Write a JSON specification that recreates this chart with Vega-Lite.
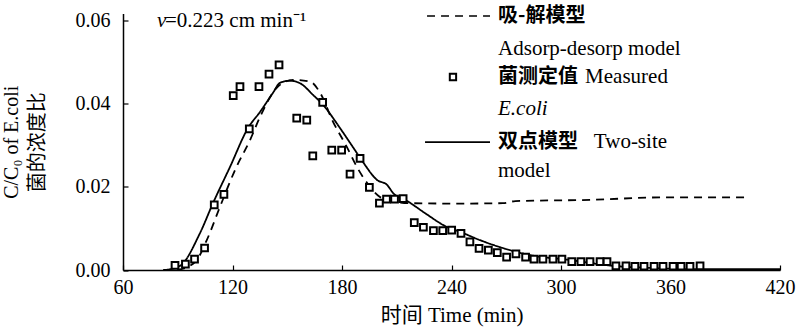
{
  "$schema": "https://vega.github.io/schema/vega-lite/v6.json",
  "autosize": {"type": "none"},
  "padding": {"left": 123, "top": 13.5, "right": 16, "bottom": 59},
  "width": 657,
  "height": 256.5,
  "background": "white",
  "config": {"view": {"stroke": null}, "font": "Liberation Serif"},
  "datasets": {
    "measured": [
      {"t": 88.5, "c": 0.0011}, {"t": 94.2, "c": 0.0014}, {"t": 99.2, "c": 0.0026}, {"t": 104.7, "c": 0.0053},
      {"t": 110.0, "c": 0.0157}, {"t": 115.3, "c": 0.0182}, {"t": 120.4, "c": 0.042}, {"t": 124.1, "c": 0.0442},
      {"t": 129.2, "c": 0.034}, {"t": 134.5, "c": 0.0442}, {"t": 140.0, "c": 0.0472}, {"t": 145.5, "c": 0.0494},
      {"t": 155.2, "c": 0.0366}, {"t": 160.7, "c": 0.0361}, {"t": 164.0, "c": 0.0275}, {"t": 169.4, "c": 0.0404},
      {"t": 174.4, "c": 0.0289}, {"t": 179.8, "c": 0.0289}, {"t": 184.4, "c": 0.0231}, {"t": 189.9, "c": 0.0269},
      {"t": 195.0, "c": 0.0199}, {"t": 200.5, "c": 0.0161}, {"t": 204.4, "c": 0.0171}, {"t": 208.8, "c": 0.0171},
      {"t": 213.5, "c": 0.0172}, {"t": 219.6, "c": 0.0114}, {"t": 224.6, "c": 0.0103}, {"t": 230.1, "c": 0.0095},
      {"t": 235.2, "c": 0.0095}, {"t": 240.1, "c": 0.0096}, {"t": 245.2, "c": 0.0088}, {"t": 250.1, "c": 0.0068},
      {"t": 255.1, "c": 0.0052}, {"t": 260.2, "c": 0.0048}, {"t": 265.1, "c": 0.0042}, {"t": 270.2, "c": 0.0031},
      {"t": 275.3, "c": 0.0039}, {"t": 280.6, "c": 0.0031}, {"t": 285.2, "c": 0.0026}, {"t": 290.1, "c": 0.0026},
      {"t": 295.6, "c": 0.0026}, {"t": 300.5, "c": 0.0026}, {"t": 305.9, "c": 0.002}, {"t": 310.9, "c": 0.002},
      {"t": 315.9, "c": 0.002}, {"t": 321.4, "c": 0.002}, {"t": 325.2, "c": 0.002}, {"t": 330.1, "c": 0.001},
      {"t": 335.6, "c": 0.001}, {"t": 340.5, "c": 0.0009}, {"t": 345.5, "c": 0.0009}, {"t": 351.0, "c": 0.0009},
      {"t": 355.9, "c": 0.0009}, {"t": 361.4, "c": 0.0009}, {"t": 365.8, "c": 0.0009}, {"t": 370.7, "c": 0.0009},
      {"t": 376.2, "c": 0.001}
    ],
    "models": [
      {"model": "Adsorp-desorp", "t": 82, "c": 0},
      {"model": "Adsorp-desorp", "t": 90, "c": 0.0001},
      {"model": "Adsorp-desorp", "t": 99.5, "c": 0.0019},
      {"model": "Adsorp-desorp", "t": 105.9, "c": 0.0072},
      {"model": "Adsorp-desorp", "t": 113.2, "c": 0.0153},
      {"model": "Adsorp-desorp", "t": 121.9, "c": 0.0246},
      {"model": "Adsorp-desorp", "t": 129.6, "c": 0.0313},
      {"model": "Adsorp-desorp", "t": 135.1, "c": 0.0369},
      {"model": "Adsorp-desorp", "t": 144.9, "c": 0.0442},
      {"model": "Adsorp-desorp", "t": 153.2, "c": 0.0458},
      {"model": "Adsorp-desorp", "t": 162.5, "c": 0.0454},
      {"model": "Adsorp-desorp", "t": 168.0, "c": 0.0427},
      {"model": "Adsorp-desorp", "t": 175.1, "c": 0.0357},
      {"model": "Adsorp-desorp", "t": 182.7, "c": 0.0296},
      {"model": "Adsorp-desorp", "t": 188.2, "c": 0.0248},
      {"model": "Adsorp-desorp", "t": 193.7, "c": 0.021},
      {"model": "Adsorp-desorp", "t": 200.8, "c": 0.0176},
      {"model": "Adsorp-desorp", "t": 206.3, "c": 0.0167},
      {"model": "Adsorp-desorp", "t": 217.3, "c": 0.0161},
      {"model": "Adsorp-desorp", "t": 244.7, "c": 0.016},
      {"model": "Adsorp-desorp", "t": 268.2, "c": 0.0161},
      {"model": "Adsorp-desorp", "t": 275.0, "c": 0.0166},
      {"model": "Adsorp-desorp", "t": 315.9, "c": 0.0169},
      {"model": "Adsorp-desorp", "t": 355.9, "c": 0.0175},
      {"model": "Adsorp-desorp", "t": 402.5, "c": 0.0175},
      {"model": "Two-site", "t": 83, "c": 0},
      {"model": "Two-site", "t": 91.2, "c": 0.001},
      {"model": "Two-site", "t": 102.2, "c": 0.0089},
      {"model": "Two-site", "t": 109.3, "c": 0.0161},
      {"model": "Two-site", "t": 118.6, "c": 0.0248},
      {"model": "Two-site", "t": 128.5, "c": 0.0342},
      {"model": "Two-site", "t": 135.1, "c": 0.0381},
      {"model": "Two-site", "t": 142.2, "c": 0.0427},
      {"model": "Two-site", "t": 146.0, "c": 0.0451},
      {"model": "Two-site", "t": 151.5, "c": 0.0456},
      {"model": "Two-site", "t": 157.0, "c": 0.045},
      {"model": "Two-site", "t": 164.1, "c": 0.0422},
      {"model": "Two-site", "t": 169.6, "c": 0.0398},
      {"model": "Two-site", "t": 178.9, "c": 0.0342},
      {"model": "Two-site", "t": 186.0, "c": 0.0296},
      {"model": "Two-site", "t": 191.5, "c": 0.026},
      {"model": "Two-site", "t": 199.2, "c": 0.0217},
      {"model": "Two-site", "t": 204.7, "c": 0.0205},
      {"model": "Two-site", "t": 207.9, "c": 0.0186},
      {"model": "Two-site", "t": 216.2, "c": 0.0165},
      {"model": "Two-site", "t": 225.5, "c": 0.0137},
      {"model": "Two-site", "t": 237.4, "c": 0.0104},
      {"model": "Two-site", "t": 244.7, "c": 0.0092},
      {"model": "Two-site", "t": 255.6, "c": 0.0072},
      {"model": "Two-site", "t": 266.6, "c": 0.0055},
      {"model": "Two-site", "t": 283.0, "c": 0.0036},
      {"model": "Two-site", "t": 305.0, "c": 0.0024},
      {"model": "Two-site", "t": 328.5, "c": 0.001},
      {"model": "Two-site", "t": 348.8, "c": 0.0005},
      {"model": "Two-site", "t": 376.0, "c": 0.0002},
      {"model": "Two-site", "t": 420.0, "c": 0.0002}
    ],
    "keyLines": [
      {"model": "Adsorp-desorp", "t": 226.6, "t2": 261.1, "c": 0.0612},
      {"model": "Two-site", "t": 225.5, "t2": 261.1, "c": 0.0308}
    ],
    "keySymbol": [
      {"t": 240.8, "c": 0.0465}
    ],
    "notes": [
      {"kind": "italic", "t": 78.6, "c": 0.0600, "text": "v"},
      {"kind": "serif", "t": 83.0, "c": 0.0600, "text": "=0.223 cm min⁻¹"},
      {"kind": "cjk", "t": 265.5, "c": 0.0611, "text": "吸-解模型"},
      {"kind": "serif", "t": 265.5, "c": 0.0532, "text": "Adsorp-desorp model"},
      {"kind": "cjk", "t": 265.5, "c": 0.0465, "text": "菌测定值"},
      {"kind": "serif", "t": 313.2, "c": 0.0465, "text": "Measured"},
      {"kind": "italic", "t": 265.5, "c": 0.0388, "text": "E.coli"},
      {"kind": "cjk", "t": 265.5, "c": 0.0308, "text": "双点模型"},
      {"kind": "serif", "t": 318.0, "c": 0.0308, "text": "Two-site"},
      {"kind": "serif", "t": 265.5, "c": 0.0238, "text": "model"}
    ]
  },
  "layer": [
    {
      "data": {"name": "models"},
      "mark": {"type": "line", "color": "black", "strokeWidth": 1.8, "interpolate": "monotone"},
      "encoding": {
        "x": {
          "field": "t", "type": "quantitative",
          "scale": {"domain": [60, 420], "nice": false, "zero": false},
          "axis": {
            "values": [60, 120, 180, 240, 300, 360, 420],
            "title": "时间 Time (min)",
            "grid": false,
            "tickSize": -5,
            "tickColor": "black",
            "domainColor": "black",
            "domainWidth": 1.5,
            "tickWidth": 1.2,
            "labelColor": "black",
            "labelFont": "Liberation Serif",
            "labelFontSize": 20,
            "labelPadding": 12,
            "labelFlush": false,
            "titleColor": "black",
            "titleFont": "Liberation Serif, Noto Sans CJK SC",
            "titleFontSize": 21,
            "titleFontWeight": "normal",
            "titlePadding": 7
          }
        },
        "y": {
          "field": "c", "type": "quantitative",
          "scale": {"domain": [0, 0.0618], "nice": false},
          "axis": {
            "values": [0, 0.02, 0.04, 0.06],
            "format": ".2f",
            "title": ["C/C₀ of E.coli", "菌的浓度比"],
            "grid": false,
            "tickSize": -5,
            "tickColor": "black",
            "domainColor": "black",
            "domainWidth": 1.5,
            "tickWidth": 1.2,
            "labelColor": "black",
            "labelFont": "Liberation Serif",
            "labelFontSize": 20,
            "labelPadding": 18,
            "titleColor": "black",
            "titleFont": "Liberation Serif, Noto Sans CJK SC",
            "titleFontSize": 20,
            "titleFontWeight": "normal",
            "titleLineHeight": 26,
            "titlePadding": 28
          }
        },
        "detail": {"field": "model"},
        "strokeDash": {
          "field": "model", "type": "nominal",
          "scale": {"domain": ["Adsorp-desorp", "Two-site"], "range": [[8, 6], [1, 0]]},
          "legend": null
        }
      }
    },
    {
      "data": {"name": "measured"},
      "mark": {"type": "point", "shape": "square", "filled": false, "fill": "white", "fillOpacity": 1, "stroke": "black", "strokeWidth": 2, "size": 45, "opacity": 1},
      "encoding": {
        "x": {"field": "t", "type": "quantitative"},
        "y": {"field": "c", "type": "quantitative"}
      }
    },
    {
      "data": {"name": "keyLines"},
      "mark": {"type": "rule", "color": "black", "strokeWidth": 1.6},
      "encoding": {
        "x": {"field": "t", "type": "quantitative"},
        "x2": {"field": "t2"},
        "y": {"field": "c", "type": "quantitative"},
        "strokeDash": {
          "field": "model", "type": "nominal",
          "scale": {"domain": ["Adsorp-desorp", "Two-site"], "range": [[6, 5], [1, 0]]},
          "legend": null
        }
      }
    },
    {
      "data": {"name": "keySymbol"},
      "mark": {"type": "point", "shape": "square", "filled": false, "fill": "white", "fillOpacity": 1, "stroke": "black", "strokeWidth": 2, "size": 40, "opacity": 1},
      "encoding": {
        "x": {"field": "t", "type": "quantitative"},
        "y": {"field": "c", "type": "quantitative"}
      }
    },
    {
      "data": {"name": "notes"},
      "transform": [{"filter": "datum.kind === 'serif'"}],
      "mark": {"type": "text", "align": "left", "baseline": "middle", "font": "Liberation Serif", "fontSize": 21, "color": "black"},
      "encoding": {
        "x": {"field": "t", "type": "quantitative"},
        "y": {"field": "c", "type": "quantitative"},
        "text": {"field": "text"}
      }
    },
    {
      "data": {"name": "notes"},
      "transform": [{"filter": "datum.kind === 'italic'"}],
      "mark": {"type": "text", "align": "left", "baseline": "middle", "font": "Liberation Serif", "fontStyle": "italic", "fontSize": 21, "color": "black"},
      "encoding": {
        "x": {"field": "t", "type": "quantitative"},
        "y": {"field": "c", "type": "quantitative"},
        "text": {"field": "text"}
      }
    },
    {
      "data": {"name": "notes"},
      "transform": [{"filter": "datum.kind === 'cjk'"}],
      "mark": {"type": "text", "align": "left", "baseline": "middle", "font": "Noto Sans CJK SC", "fontWeight": "bold", "fontSize": 20, "color": "black"},
      "encoding": {
        "x": {"field": "t", "type": "quantitative"},
        "y": {"field": "c", "type": "quantitative"},
        "text": {"field": "text"}
      }
    }
  ]
}
